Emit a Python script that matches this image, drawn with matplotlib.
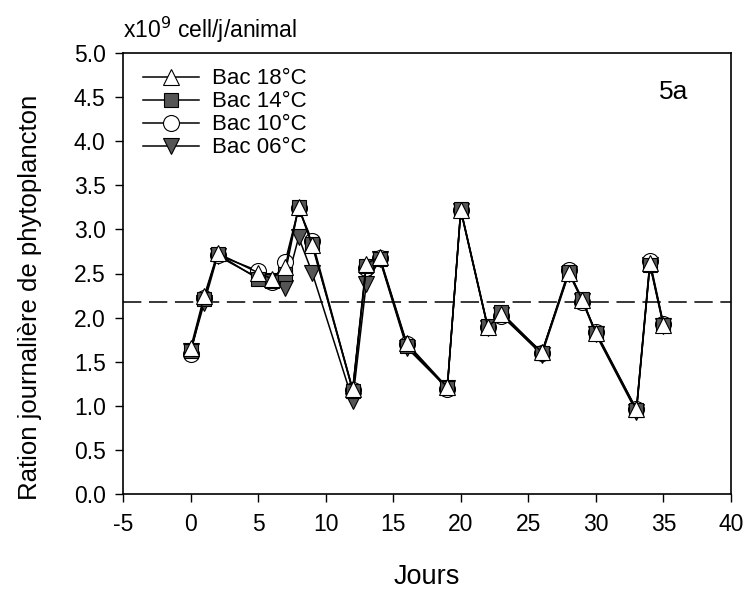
import numpy as np
import matplotlib.pyplot as plt

plt.rcParams['font.family'] = ['Liberation Sans', 'DejaVu Sans']
plt.rcParams['axes.unicode_minus'] = False

# jours de mesure
jours = [0, 1, 2, 5, 6, 7, 8, 9, 12, 13, 14, 16, 19, 20, 22, 23, 26, 28, 29, 30, 33, 34, 35]

# ration journaliere (x10^9 cell/j/animal)
bac18 = [1.65, 2.24, 2.73, 2.51, 2.44, 2.57, 3.25, 2.82, 1.19, 2.61, 2.69, 1.71, 1.21, 3.22,
         1.89, 2.04, 1.61, 2.51, 2.20, 1.83, 0.96, 2.62, 1.92]
bac14 = [1.62, 2.21, 2.72, 2.44, 2.42, 2.50, 3.25, 2.84, 1.17, 2.58, 2.67, 1.68, 1.20, 3.23,
         1.90, 2.06, 1.60, 2.52, 2.21, 1.82, 0.95, 2.60, 1.92]
bac10 = [1.59, 2.22, 2.71, 2.53, 2.40, 2.63, 3.24, 2.87, 1.18, 2.56, 2.68, 1.70, 1.19, 3.22,
         1.89, 2.02, 1.60, 2.54, 2.18, 1.84, 0.96, 2.64, 1.93]
bac06 = [1.62, 2.16, 2.70, 2.45, 2.41, 2.33, 2.91, 2.51, 1.06, 2.38, 2.66, 1.66, 1.20, 3.21,
         1.88, 2.03, 1.58, 2.50, 2.19, 1.81, 0.93, 2.60, 1.90]
moyenne = 2.18

fig = plt.figure(figsize=(7.48, 5.94), dpi=100)
ax = fig.add_axes([123/748, 1 - 494/594, (731-123)/748, (494-53)/594])

gris = '#555555'
ms = 12
ax.plot(jours, bac06, '-', color='k', lw=1.1, marker='v', ms=ms, mfc=gris, mec='k', mew=0.8, label='Bac 06°C', zorder=2)
ax.plot(jours, bac10, '-', color='k', lw=1.1, marker='o', ms=ms - 0.5, mfc='white', mec='k', mew=0.8, label='Bac 10°C', zorder=3)
ax.plot(jours, bac14, '-', color='k', lw=1.1, marker='s', ms=ms - 2.5, mfc=gris, mec='k', mew=0.8, label='Bac 14°C', zorder=4)
ax.plot(jours, bac18, '-', color='k', lw=1.1, marker='^', ms=ms, mfc='white', mec='k', mew=0.8, label='Bac 18°C', zorder=5)

ax.axhline(moyenne, color='k', lw=1.1, ls=(0, (12, 5)), zorder=1)

ax.set_xlim(-5, 40)
ax.set_ylim(0, 5)
ax.set_xticks(np.arange(-5, 41, 5))
ax.set_yticks(np.arange(0, 5.01, 0.5))
ax.set_yticklabels(['%.1f' % v for v in np.arange(0, 5.01, 0.5)])
ax.tick_params(direction='out', length=5.5, width=1, labelsize=16.5)
ax.tick_params(axis='y', pad=7)
ax.tick_params(axis='x', pad=8.5)
for s in ax.spines.values():
    s.set_linewidth(1.2)

ax.set_xlabel('Jours', fontsize=19.5, labelpad=20)
ax.set_ylabel('Ration journalière de phytoplancton', fontsize=18.5)
ax.yaxis.set_label_coords(-0.133, 0.445)
ax.text(0.0, 1.034, r'x10$^{9}$ cell/j/animal', transform=ax.transAxes, fontsize=16.5, ha='left', va='baseline')
ax.text(0.906, 0.912, '5a', transform=ax.transAxes, fontsize=19, ha='center', va='center')

h, l = ax.get_legend_handles_labels()
leg = ax.legend(h[::-1], l[::-1], loc='upper left', bbox_to_anchor=(0.033, 0.965), frameon=False,
                fontsize=16, handlelength=2.5, labelspacing=0.09, handletextpad=0.62,
                borderaxespad=0, borderpad=0)

fig.savefig('out.png', dpi=100)
